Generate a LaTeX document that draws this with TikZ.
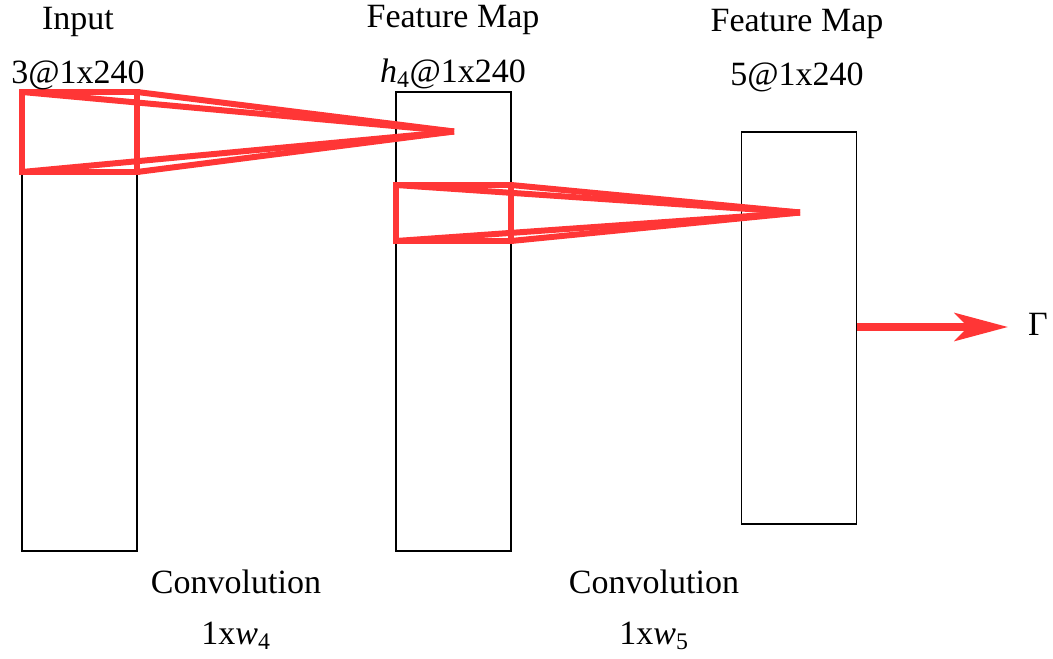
\documentclass[tikz,border=0pt]{standalone}
\usepackage{fontspec}
\setmainfont{Liberation Serif}
\usetikzlibrary{arrows.meta}
\definecolor{netred}{RGB}{255,54,54}
\begin{document}
\begin{tikzpicture}[x=0.75pt,y=-0.75pt,
  layer/.style={draw=black,line width=0.8pt,minimum width={115*0.75pt},inner sep=0pt,outer sep=0pt},
  kernel/.style={draw=netred,line width=4.5pt,minimum width={115*0.75pt},inner sep=0pt,outer sep=0pt},
  cone/.style={draw=netred,line width=4.5pt},
  lbl/.style={font=\fontsize{25.5pt}{30pt}\selectfont,inner sep=0pt}]
\useasboundingbox (0,0) rectangle (1053,659);

% layers
\node[layer,minimum height={459*0.75pt}] (in) at (79.5,321.5) {};
\node[layer,minimum height={459*0.75pt}] (fm1) at (453.5,321.5) {};
\node[layer,minimum height={392*0.75pt}] (fm2) at (799,328) {};

% receptive fields
\node[kernel,minimum height={80*0.75pt}] (k1) at (79.5,132) {};
\node[kernel,minimum height={56*0.75pt}] (k2) at (453.5,213) {};
\coordinate (c1) at (454,131.5);
\coordinate (c2) at (800,212.5);
\foreach \k/\c in {k1/c1,k2/c2}{
  \draw[cone] (\k.north west) -- (\c);
  \draw[cone] (\k.south west) -- (\c);
  \draw[cone] (\k.north east) -- (\c);
  \draw[cone] (\k.south east) -- (\c);
}

% output
\node[lbl] (out) at (1038,324) {Γ};
\coordinate (os) at (fm2.east |- 0,327);
\draw[netred,line width=5.5pt,-{Stealth[length=40pt,width=21pt,inset=10pt]}] (os) -- (1008,327);

% labels
\node[lbl] (t1) at (78,22) {Input};
\node[lbl] (t2) at (78,75) {3@1x240};
\node[lbl] (t3) at (453,20) {Feature Map};
\node[lbl] (t4) at (453,74) {\textit{h}\textsubscript{4}@1x240};
\node[lbl] (t5) at (797,24) {Feature Map};
\node[lbl] (t6) at (797,77) {5@1x240};
\node[lbl] (t7) at (236,582) {Convolution};
\node[lbl] (t8) at (236,636) {1x\textit{w}\textsubscript{4}};
\node[lbl] (t9) at (654,582) {Convolution};
\node[lbl] (t10) at (654,636) {1x\textit{w}\textsubscript{5}};
\end{tikzpicture}
\end{document}
